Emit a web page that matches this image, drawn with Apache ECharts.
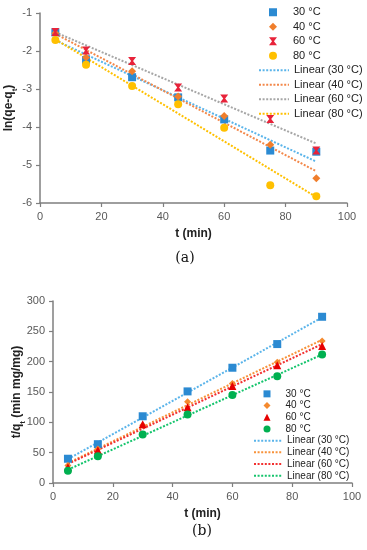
<!DOCTYPE html>
<html>
<head>
<meta charset="utf-8">
<script src="https://cdn.jsdelivr.net/npm/echarts@6/dist/echarts.min.js"></script>
<style>html,body{margin:0;padding:0;background:#fff;}#c{width:367px;height:550px;}</style>
</head>
<body>
<div id="c"></div>
<script>
// ---- data ----
var tTimes = [5, 15, 30, 45, 60, 75, 90];
var seriesNames = ['30 °C', '40 °C', '60 °C', '80 °C'];
var xTicks = [0, 20, 40, 60, 80, 100];
var yTicksA = [-6, -5, -4, -3, -2, -1];
var yTicksB = [0, 50, 100, 150, 200, 250, 300];
// (a) pseudo-first-order: ln(qe-qt)
var lnA30 = [-1.51, -2.24, -2.69, -3.22, -3.80, -4.62, -4.65];
var lnA40 = [-1.53, -2.17, -2.53, -3.20, -3.71, -4.47, -5.35];
var lnA60 = [-1.50, -1.99, -2.26, -2.96, -3.25, -3.79, -4.62];
var lnA80 = [-1.71, -2.36, -2.92, -3.40, -4.02, -5.53, -5.82];
// (b) pseudo-second-order: t/qt
var tqB30 = [40, 64, 110, 151, 190, 229, 274];
var tqB40 = [29, 56, 95, 134, 164, 199, 234];
var tqB60 = [26, 54, 97, 125, 160, 194, 226];
var tqB80 = [20, 44, 80, 113, 145, 176, 212];

function pairs(xs, ys) { return xs.map(function (x, i) { return [x, ys[i]]; }); }
function fitLine(xs, ys) {
  var n = xs.length, mx = 0, my = 0, sxx = 0, sxy = 0, i;
  for (i = 0; i < n; i++) { mx += xs[i]; my += ys[i]; }
  mx /= n; my /= n;
  for (i = 0; i < n; i++) { sxx += (xs[i] - mx) * (xs[i] - mx); sxy += (xs[i] - mx) * (ys[i] - my); }
  var b = sxy / sxx, a = my - b * mx;
  var x0 = xs[0], x1 = xs[n - 1];
  return [[x0, a + b * x0], [x1, a + b * x1]];
}

var markColorsA = ['#2B8AD2', '#F07E2C', '#E8233A', '#FFC000'];
var lineColorsA = ['#5AB4EA', '#F3884A', '#A6A6A6', '#FFC000'];
var markColorsB = ['#2B8AD2', '#F58A2E', '#E60000', '#00B050'];
var lineColorsB = ['#5AB4EA', '#F8923A', '#F23030', '#14C46C'];
var xMark = 'path://M0,0 L10,0 L6.2,5 L10,10 L0,10 L3.8,5 Z';
var symA = ['rect', 'diamond', xMark, 'circle'];
var symB = ['rect', 'diamond', 'triangle', 'circle'];
var sizeA = [8, 8, 8, 8];
var sizeB = [8, 7, 8, 8];
var dataA = [lnA30, lnA40, lnA60, lnA80];
var dataB = [tqB30, tqB40, tqB60, tqB80];

var series = [];
var legMarkA = [], legLineA = [], legMarkB = [], legLineB = [];
var i;
for (i = 0; i < 4; i++) {
  series.push({ name: 'A ' + seriesNames[i], type: 'line', xAxisIndex: 0, yAxisIndex: 0, data: fitLine(tTimes, dataA[i]),
    showSymbol: false, symbol: 'none', silent: true, z: 1, color: lineColorsA[i],
    lineStyle: { color: lineColorsA[i], width: 2, type: [2, 1.6] } });
}
for (i = 0; i < 4; i++) {
  series.push({ name: 'A' + seriesNames[i], type: 'scatter', xAxisIndex: 0, yAxisIndex: 0, data: pairs(tTimes, dataA[i]),
    symbol: symA[i], symbolSize: sizeA[i], symbolKeepAspect: true, z: 3, itemStyle: { color: markColorsA[i], opacity: 1 } });
}
for (i = 0; i < 4; i++) {
  series.push({ name: 'B ' + seriesNames[i], type: 'line', xAxisIndex: 1, yAxisIndex: 1, data: fitLine(tTimes, dataB[i]),
    showSymbol: false, symbol: 'none', silent: true, z: 1, color: lineColorsB[i],
    lineStyle: { color: lineColorsB[i], width: 2, type: [2, 1.6] } });
}
for (i = 0; i < 4; i++) {
  series.push({ name: 'B' + seriesNames[i], type: 'scatter', xAxisIndex: 1, yAxisIndex: 1, data: pairs(tTimes, dataB[i]),
    symbol: symB[i], symbolSize: sizeB[i], symbolKeepAspect: true, z: 3, itemStyle: { color: markColorsB[i], opacity: 1 } });
}
for (i = 0; i < 4; i++) legMarkA.push({ name: 'A' + seriesNames[i] });
for (i = 0; i < 4; i++) legLineA.push({ name: 'A ' + seriesNames[i], itemStyle: { opacity: 0 } });
for (i = 0; i < 4; i++) legMarkB.push({ name: 'B' + seriesNames[i] });
for (i = 0; i < 4; i++) legLineB.push({ name: 'B ' + seriesNames[i], itemStyle: { opacity: 0 } });

function legendFmt(name) {
  var key = name.slice(1);
  if (key.charAt(0) === ' ') return 'Linear (' + key.slice(1) + ')';
  return key;
}

var axisCommon = {
  axisLine: { show: true, onZero: false, lineStyle: { color: '#7F7F7F', width: 1.5 } },
  axisTick: { show: true, inside: false, length: 4, lineStyle: { color: '#7F7F7F', width: 1.2 } },
  splitLine: { show: false },
  axisLabel: { color: '#595959', fontSize: 11, fontFamily: 'Liberation Sans' }
};
function ax(extra) { var o = JSON.parse(JSON.stringify(axisCommon)); for (var k in extra) o[k] = extra[k]; return o; }
var nameStyle = { fontWeight: 'bold', fontSize: 12, color: '#222', fontFamily: 'Liberation Sans' };
var richSub = { s: { fontSize: 8, fontWeight: 'bold', color: '#222', fontFamily: 'Liberation Sans', verticalAlign: 'bottom', padding: [0, 0, -4, 0] } };

var option = {
  animation: false,
  backgroundColor: '#fff',
  grid: [
    { left: 40, right: 20, top: 13, bottom: 347, outerBoundsMode: 'none', containLabel: false },
    { left: 53, right: 15, top: 301, bottom: 67, outerBoundsMode: 'none', containLabel: false }
  ],
  xAxis: [
    ax({ gridIndex: 0, type: 'value', min: xTicks[0], max: xTicks[xTicks.length - 1], interval: xTicks[1] - xTicks[0],
      name: 't (min)', nameLocation: 'middle', nameGap: 25, nameMoveOverlap: false, nameTextStyle: nameStyle }),
    ax({ gridIndex: 1, type: 'value', min: xTicks[0], max: xTicks[xTicks.length - 1], interval: xTicks[1] - xTicks[0],
      name: 't (min)', nameLocation: 'middle', nameGap: 25, nameMoveOverlap: false, nameTextStyle: nameStyle })
  ],
  yAxis: [
    ax({ gridIndex: 0, type: 'value', min: yTicksA[0], max: yTicksA[yTicksA.length - 1], interval: yTicksA[1] - yTicksA[0],
      name: 'ln(qe-q{s|t})', nameLocation: 'middle', nameGap: 25, nameRotate: 90, nameMoveOverlap: false,
      nameTextStyle: Object.assign({ rich: richSub }, nameStyle) }),
    ax({ gridIndex: 1, type: 'value', min: yTicksB[0], max: yTicksB[yTicksB.length - 1], interval: yTicksB[1] - yTicksB[0],
      name: 't/q{s|t} (min mg/mg)', nameLocation: 'middle', nameGap: 30, nameRotate: 90, nameMoveOverlap: false,
      nameTextStyle: Object.assign({ rich: richSub }, nameStyle) })
  ],
  legend: [
    { orient: 'vertical', left: 269, top: 5, itemWidth: 8, itemHeight: 8, itemGap: 0, padding: 0,
      data: legMarkA, formatter: legendFmt, selectedMode: false,
      textStyle: { fontSize: 11, color: '#222', fontFamily: 'Liberation Sans', lineHeight: 14.5, height: 14.5, padding: [0, 0, 0, 11] } },
    { orient: 'vertical', left: 258, top: 63, itemWidth: 30, itemHeight: 8, itemGap: 0, padding: 0,
      data: legLineA, formatter: legendFmt, selectedMode: false,
      textStyle: { fontSize: 11, color: '#222', fontFamily: 'Liberation Sans', lineHeight: 14.5, height: 14.5 } },
    { orient: 'vertical', left: 263.5, top: 388, itemWidth: 7, itemHeight: 7, itemGap: 0, padding: 0,
      data: legMarkB, formatter: legendFmt, selectedMode: false,
      textStyle: { fontSize: 10, color: '#222', fontFamily: 'Liberation Sans', lineHeight: 11.7, height: 11.7, padding: [0, 0, 0, 10] } },
    { orient: 'vertical', left: 253, top: 434.8, itemWidth: 28, itemHeight: 7, itemGap: 0, padding: 0,
      data: legLineB, formatter: legendFmt, selectedMode: false,
      textStyle: { fontSize: 10, color: '#222', fontFamily: 'Liberation Sans', lineHeight: 11.7, height: 11.7 } }
  ],
  title: [
    { text: '(a)', left: 185, top: 251, textAlign: 'center', padding: 0,
      textStyle: { fontSize: 14, fontWeight: 'normal', color: '#111', fontFamily: 'DejaVu Serif' } },
    { text: '(b)', left: 202, top: 524, textAlign: 'center', padding: 0,
      textStyle: { fontSize: 14, fontWeight: 'normal', color: '#111', fontFamily: 'DejaVu Serif' } }
  ],
  series: series
};
var chart = echarts.init(document.getElementById('c'), null, { renderer: 'canvas' });
chart.setOption(option);
</script>
</body>
</html>
